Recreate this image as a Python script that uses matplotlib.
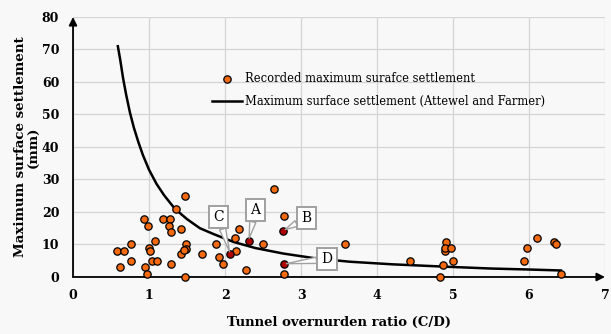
import numpy as np
import matplotlib.pyplot as plt

# ----------------------------
# data
# ----------------------------
cd_ratio = [0.58, 0.67, 0.62, 0.76, 0.76, 0.94, 0.99, 0.95, 0.97, 1.00,
            1.01, 1.08, 1.04, 1.11, 1.18, 1.28, 1.26, 1.29, 1.35, 1.42,
            1.29, 1.42, 1.49, 1.49, 1.46, 1.48, 1.48, 1.70, 1.88, 1.92,
            1.97, 2.14, 2.13, 2.19, 2.28, 2.50, 2.64, 2.78, 2.77, 3.58,
            4.43, 4.83, 4.87, 4.91, 4.89, 4.90, 4.98, 5.00, 5.93, 5.97,
            6.11, 6.33, 6.36, 6.42]
settlement = [8.0, 8.0, 3.0, 10.0, 5.0, 17.7, 15.8, 3.0, 1.0, 9.0,
              8.0, 11.0, 5.0, 5.0, 17.7, 17.7, 15.8, 13.8, 20.8, 14.9,
              3.9, 7.0, 10.0, 8.7, 8.3, 24.9, 0.0, 7.0, 10.0, 6.0,
              3.9, 8.0, 11.9, 14.9, 2.0, 10.0, 27.0, 18.9, 1.0, 10.0,
              4.9, 0.0, 3.8, 10.9, 7.9, 8.8, 8.8, 4.9, 4.9, 8.8,
              11.9, 10.9, 10.0, 1.0]

case_names = ["A", "B", "C", "D"]
case_cd = [2.31, 2.76, 2.07, 2.77]
case_settlement = [11.1, 14.2, 7.0, 4.0]
label_cd = [2.40, 3.07, 1.92, 3.34]
label_settlement = [20.6, 18.1, 18.4, 5.5]

curve_cd = [0.59, 0.62, 0.66, 0.70, 0.75, 0.80, 0.86, 0.92, 1.00, 1.10,
            1.20, 1.34, 1.50, 1.67, 1.85, 2.11, 2.40, 2.77, 3.20, 3.64,
            4.20, 4.87, 5.50, 6.00, 6.42]
curve_settlement = [71.0, 67.0, 61.0, 56.0, 50.5, 46.0, 41.5, 37.5, 33.0, 28.6,
                    25.1, 21.0, 17.8, 15.0, 13.2, 10.8, 8.9, 7.2, 5.7, 4.7,
                    3.9, 3.2, 2.6, 2.3, 2.0]

x_ticks = [0, 1, 2, 3, 4, 5, 6, 7]
y_ticks = [0, 10, 20, 30, 40, 50, 60, 70, 80]

# ----------------------------
# plotting
# ----------------------------
BG = "#f8f8f8"
ORANGE = "#f5690f"
SERIF = "DejaVu Serif"

fig = plt.figure(figsize=(6.11, 3.34), dpi=100, facecolor=BG)
ax = fig.add_axes([0.1195, 0.1707, 0.8707, 0.7784])
ax.set_facecolor(BG)

ax.set_xlim(0, 7)
ax.set_ylim(0, 80)
ax.set_xticks(x_ticks)
ax.set_yticks(y_ticks)
ax.grid(True, color="#d4d4d4", lw=0.9)
ax.set_axisbelow(True)
for s in ax.spines.values():
    s.set_visible(False)
ax.tick_params(length=0, labelsize=9)
ax.tick_params(axis="x", pad=9)
ax.tick_params(axis="y", pad=10)
for lab in ax.get_xticklabels() + ax.get_yticklabels():
    lab.set_fontfamily(SERIF)
    lab.set_fontweight("bold")

# axis arrows
ax.annotate("", xy=(1.0, 0), xytext=(0, 0), xycoords="axes fraction",
            arrowprops=dict(arrowstyle="-|>", color="k", lw=1.3,
                            mutation_scale=12, shrinkA=0, shrinkB=0))
ax.annotate("", xy=(0, 1.0), xytext=(0, 0), xycoords="axes fraction",
            arrowprops=dict(arrowstyle="-|>", color="k", lw=1.3,
                            mutation_scale=12, shrinkA=0, shrinkB=0))

ax.plot(curve_cd, curve_settlement, color="k", lw=1.8, zorder=3,
        label="Maximum surface settlement (Attewel and Farmer)")
ax.scatter(cd_ratio, settlement, s=28, color=ORANGE, edgecolor="k",
           linewidth=0.9, zorder=4, clip_on=False,
           label="Recorded maximum surafce settlement")
ax.scatter(case_cd, case_settlement, s=28, color="#b00000", edgecolor="k",
           linewidth=0.9, zorder=4)

for name, x, y, lx, ly in zip(case_names, case_cd, case_settlement,
                              label_cd, label_settlement):
    ax.annotate(name, xy=(x, y), xytext=(lx, ly), ha="center", va="center",
                fontsize=10, family=SERIF, zorder=6,
                bbox=dict(boxstyle="square,pad=0.3", fc="white",
                          ec="#a0a0a0", lw=1.4),
                arrowprops=dict(arrowstyle="wedge,tail_width=0.45",
                                fc="white", ec="#a0a0a0", lw=1.0,
                                shrinkA=0, shrinkB=2))

handles, labels = ax.get_legend_handles_labels()
leg = ax.legend(handles[::-1], labels[::-1], loc="upper left",
                bbox_to_anchor=(0.242, 0.827), frameon=False,
                prop=dict(family=SERIF, size=8.3), handlelength=2.6,
                handletextpad=0.25, labelspacing=0.85)

ax.set_xlabel("Tunnel overnurden ratio (C/D)", family=SERIF,
              fontweight="bold", fontsize=9.5, labelpad=10)
ax.set_ylabel("Maximum surface settlement\n(mm)", family=SERIF,
              fontweight="bold", fontsize=9.6, labelpad=1,
              linespacing=1.0)

fig.savefig("out.png", dpi=100, facecolor=BG)
